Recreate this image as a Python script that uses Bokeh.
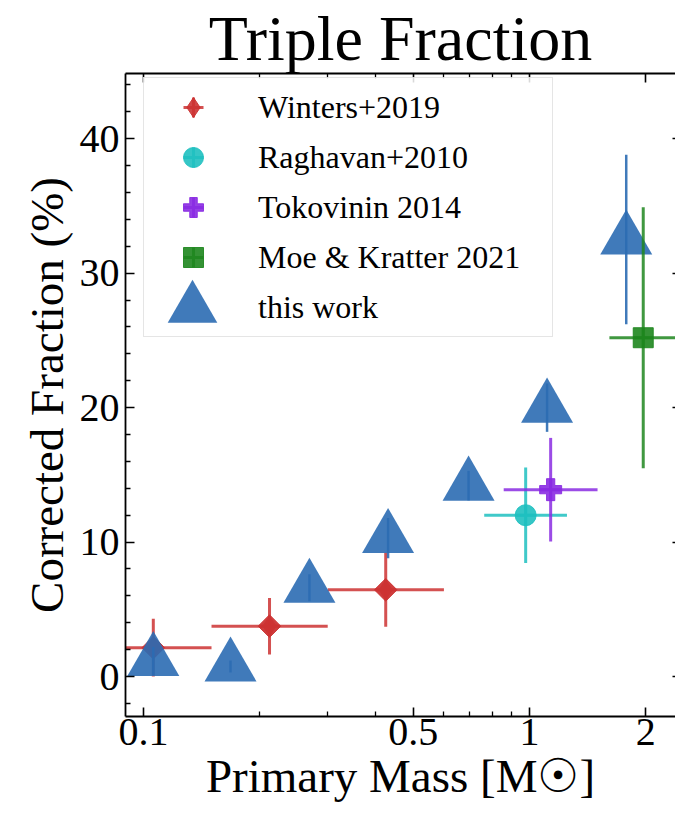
import numpy as np
from bokeh.plotting import figure
from bokeh.models import (ColumnDataSource, Range1d, FixedTicker, LogAxis, LinearAxis,
                          CustomJSTickFormatter, Legend, LegendItem)
from bokeh.embed import file_html
from bokeh.resources import INLINE

# ---------------- data ----------------
winters_mass = [0.106, 0.212, 0.424]
winters_mass_lo = [0.075, 0.150, 0.300]
winters_mass_hi = [0.150, 0.300, 0.600]
winters_frac = [2.15, 3.75, 6.45]
winters_err = [2.15, 2.10, 2.75]

raghavan_mass = [0.977]
raghavan_mass_lo = [0.763]
raghavan_mass_hi = [1.25]
raghavan_frac = [12.0]
raghavan_err = [3.55]

tokovinin_mass = [1.134]
tokovinin_mass_lo = [0.857]
tokovinin_mass_hi = [1.50]
tokovinin_frac = [13.9]
tokovinin_err = [3.85]

moe_mass = [1.97]
moe_mass_lo = [1.61]
moe_mass_hi = [2.42]
moe_frac = [25.2]
moe_err = [9.7]

this_mass = [0.106, 0.168, 0.269, 0.430, 0.695, 1.11, 1.78]
this_frac = [1.15, 0.75, 6.6, 10.3, 14.2, 20.0, 32.5]
this_err = [1.05, 0.45, 1.0, 1.5, 1.1, 1.8, 6.3]

x_major_ticks = [0.1, 0.5, 1, 2]
x_minor_ticks = [0.2, 0.3, 0.4, 0.6, 0.7, 0.8, 0.9]
y_major_ticks = [0, 10, 20, 30, 40]
y_minor_ticks = [-2, 2, 4, 6, 8, 12, 14, 16, 18, 22, 24, 26, 28, 32, 34, 36, 38, 42, 44]

SERIF = "Liberation Serif"
INK = "black"

p = figure(width=675, height=821, x_axis_type="log",
           x_range=Range1d(0.0898, 2.388), y_range=Range1d(-2.97, 44.85),
           output_backend="svg", toolbar_location=None,
           min_border_left=125, min_border_right=0, min_border_top=72, min_border_bottom=105,
           title="Triple Fraction")
p.background_fill_color = "white"
p.border_fill_color = "white"
p.outline_line_color = None
p.xgrid.visible = False
p.ygrid.visible = False

p.title.text_font = SERIF
p.title.text_font_size = "64px"
p.title.text_font_style = "normal"
p.title.text_color = INK
p.title.align = "center"
p.title.standoff = 0


def style_axis(ax, tick_in=9, minor_in=5):
    ax.axis_line_width = 1.8
    ax.axis_line_color = INK
    ax.major_tick_line_color = INK
    ax.minor_tick_line_color = INK
    ax.major_tick_in = tick_in
    ax.major_tick_out = 0
    ax.minor_tick_in = minor_in
    ax.minor_tick_out = 0
    ax.major_tick_line_width = 1.6
    ax.minor_tick_line_width = 1.3
    ax.major_label_text_font = SERIF
    ax.major_label_text_font_size = "40px"
    ax.major_label_text_color = INK
    ax.axis_label_text_font = SERIF
    ax.axis_label_text_font_style = "normal"
    ax.axis_label_text_font_size = "47px"
    ax.axis_label_text_color = INK


xax = p.xaxis[0]
yax = p.yaxis[0]
style_axis(xax)
style_axis(yax)
xax.ticker = FixedTicker(ticks=x_major_ticks, minor_ticks=x_minor_ticks)
xax.formatter = CustomJSTickFormatter(code="return tick.toString();")
xax.major_label_standoff = 2
xax.axis_label = "Primary Mass [M\u2609]"
xax.axis_label_standoff = 2

yax.ticker = FixedTicker(ticks=y_major_ticks, minor_ticks=y_minor_ticks)
yax.major_label_standoff = 6
yax.axis_label = "Corrected Fraction (%)"
yax.axis_label_standoff = 4

top = LogAxis(ticker=FixedTicker(ticks=x_major_ticks, minor_ticks=x_minor_ticks),
              formatter=CustomJSTickFormatter(code="return '';"))
style_axis(top)
top.major_label_text_font_size = "0px"
top.major_label_standoff = 0
p.add_layout(top, "above")

right = LinearAxis(ticker=FixedTicker(ticks=y_major_ticks, minor_ticks=y_minor_ticks),
                   formatter=CustomJSTickFormatter(code="return '';"))
style_axis(right, tick_in=3, minor_in=0)
right.axis_line_color = None
right.major_label_text_font_size = "0px"
right.major_label_standoff = 0
p.add_layout(right, "right")


def series(mass, frac, err, color, lw, alpha, lo=None, hi=None):
    d = dict(x=mass, y=frac,
             ylo=[f - e for f, e in zip(frac, err)],
             yhi=[f + e for f, e in zip(frac, err)])
    if lo is not None:
        d["lo"] = lo
        d["hi"] = hi
    src = ColumnDataSource(d)
    if lo is not None:
        p.segment(x0="lo", y0="y", x1="hi", y1="y", source=src,
                  line_color=color, line_width=lw, line_alpha=alpha)
    p.segment(x0="x", y0="ylo", x1="x", y1="yhi", source=src,
              line_color=color, line_width=lw, line_alpha=alpha)
    return src


RED, CYAN, PURPLE, GREEN, BLUE = "#cc3333", "#1fc0c0", "#8a2be2", "#1e861e", "#2b6cb2"

# Winters
s_w = series(winters_mass, winters_frac, winters_err, RED, 3, 0.85, winters_mass_lo, winters_mass_hi)
c_w = p.scatter("x", "y", source=s_w, marker="cross", size=20, line_color=RED, line_width=3, line_alpha=0.85)
# thin diamond (used for the legend glyph), hidden under the rotated square
lg_w = p.scatter("x", "y", source=s_w, marker="diamond", size=20,
                 fill_color=RED, line_color=RED, fill_alpha=0.9, line_alpha=0.9)
m_w = p.scatter("x", "y", source=s_w, marker="square", angle=np.pi / 4, size=16,
                fill_color=RED, line_color=RED, fill_alpha=0.95, line_alpha=0.95)
# Raghavan
s_r = series(raghavan_mass, raghavan_frac, raghavan_err, CYAN, 3, 0.85, raghavan_mass_lo, raghavan_mass_hi)
c_r = p.scatter("x", "y", source=s_r, marker="cross", size=20, line_color=CYAN, line_width=3, line_alpha=0.85)
m_r = p.scatter("x", "y", source=s_r, marker="circle", size=21,
                fill_color=CYAN, line_color=CYAN, fill_alpha=0.9, line_alpha=0.9)
# Tokovinin
s_t = series(tokovinin_mass, tokovinin_frac, tokovinin_err, PURPLE, 3, 0.85, tokovinin_mass_lo, tokovinin_mass_hi)
c_t = p.scatter("x", "y", source=s_t, marker="cross", size=20, line_color=PURPLE, line_width=3, line_alpha=0.85)
m_t = p.scatter("x", "y", source=s_t, marker="plus", size=22,
                fill_color=PURPLE, line_color=PURPLE, fill_alpha=0.9, line_alpha=0.9)
# this work
s_tw = series(this_mass, this_frac, this_err, BLUE, 2.5, 0.9)
m_tw = p.scatter("x", "y", source=s_tw, marker="triangle", size=52,
                 fill_color=BLUE, line_color=BLUE, fill_alpha=0.9, line_alpha=0.0)
# Moe & Kratter
s_m = series(moe_mass, moe_frac, moe_err, GREEN, 3, 0.85, moe_mass_lo, moe_mass_hi)
c_m = p.scatter("x", "y", source=s_m, marker="cross", size=20, line_color=GREEN, line_width=3, line_alpha=0.85)
m_m = p.scatter("x", "y", source=s_m, marker="square", size=20,
                fill_color=GREEN, line_color=GREEN, fill_alpha=0.9, line_alpha=0.9)

dummy = p.scatter(x=[], y=[], marker="circle", size=1, fill_alpha=0, line_alpha=0)

leg1 = Legend(items=[
    LegendItem(label="Winters+2019", renderers=[c_w, lg_w]),
    LegendItem(label="Raghavan+2010", renderers=[c_r, m_r]),
    LegendItem(label="Tokovinin 2014", renderers=[c_t, m_t]),
    LegendItem(label="Moe & Kratter 2021", renderers=[c_m, m_m]),
    LegendItem(label="this work", renderers=[dummy]),
], location=(18, 379), margin=0, padding=4, spacing=-2,
    glyph_width=90, glyph_height=50, label_standoff=20, label_width=290,
    label_text_font=SERIF, label_text_font_size="32px", label_text_color=INK,
    border_line_color="#cccccc", border_line_width=1.5,
    background_fill_color="white", background_fill_alpha=0.85)
p.add_layout(leg1)

leg2 = Legend(items=[LegendItem(label=" ", renderers=[m_tw])],
              location=(5, 346), margin=0, padding=0, spacing=0,
              glyph_width=124, glyph_height=124, label_standoff=0, label_width=0,
              label_text_font=SERIF, label_text_font_size="10px",
              border_line_color=None, background_fill_alpha=0)
p.add_layout(leg2)

open("out.html", "w").write(file_html(p, INLINE))
